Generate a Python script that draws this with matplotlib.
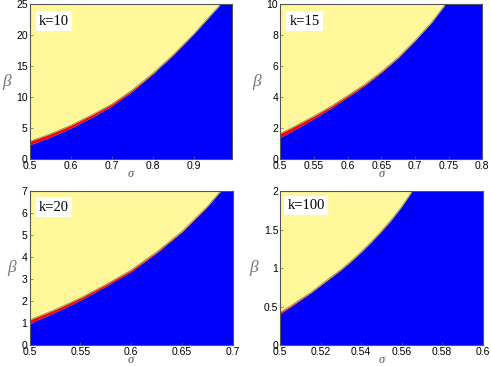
import numpy as np
import matplotlib
matplotlib.use('Agg')
import matplotlib.pyplot as plt

# boundary curves (blue top = lower, red top = upper)
sigma_k10 = [0.5, 0.55, 0.6, 0.65, 0.7, 0.75, 0.8, 0.85, 0.9, 0.95, 0.964]
lower_k10 = [2.3, 3.55, 5.0, 6.7, 8.6, 11.0, 13.8, 16.9, 20.3, 24.0, 25.0]
upper_k10 = [2.85, 4.05, 5.45, 7.1, 8.9, 11.2, 13.9, 16.95, 20.3, 24.0, 25.0]

sigma_k15 = [0.5, 0.525, 0.55, 0.575, 0.6, 0.625, 0.65, 0.675, 0.7, 0.725, 0.745]
lower_k15 = [1.4, 2.0, 2.62, 3.28, 4.0, 4.75, 5.6, 6.55, 7.65, 8.85, 10.0]
upper_k15 = [1.65, 2.2, 2.78, 3.4, 4.1, 4.82, 5.65, 6.58, 7.67, 8.86, 10.0]

sigma_k20 = [0.5, 0.525, 0.55, 0.575, 0.6, 0.625, 0.65, 0.675, 0.688]
lower_k20 = [1.0, 1.5, 2.05, 2.68, 3.35, 4.2, 5.15, 6.3, 7.0]
upper_k20 = [1.15, 1.62, 2.15, 2.76, 3.42, 4.24, 5.18, 6.31, 7.0]

sigma_k100 = [0.5, 0.505, 0.51, 0.515, 0.52, 0.525, 0.53, 0.535, 0.54, 0.545, 0.55, 0.555, 0.56, 0.5652]
lower_k100 = [0.41, 0.5, 0.59, 0.68, 0.78, 0.88, 0.98, 1.09, 1.21, 1.34, 1.48, 1.63, 1.8, 2.0]
upper_k100 = [0.43, 0.51, 0.6, 0.685, 0.785, 0.885, 0.985, 1.095, 1.215, 1.345, 1.485, 1.635, 1.8, 2.0]

labels = ['k=10', 'k=15', 'k=20', 'k=100']
xlims = [(0.5, 0.992), (0.5, 0.8), (0.5, 0.7), (0.5, 0.6)]
ylims = [(0, 25), (0, 10), (0, 7), (0, 2)]
xticks = [[0.5, 0.6, 0.7, 0.8, 0.9],
          [0.5, 0.55, 0.6, 0.65, 0.7, 0.75, 0.8],
          [0.5, 0.55, 0.6, 0.65, 0.7],
          [0.5, 0.52, 0.54, 0.56, 0.58, 0.6]]
yticks = [[0, 5, 10, 15, 20, 25],
          [0, 2, 4, 6, 8, 10],
          [0, 1, 2, 3, 4, 5, 6, 7],
          [0, 0.5, 1, 1.5, 2]]

curves = [(sigma_k10, lower_k10, upper_k10),
          (sigma_k15, lower_k15, upper_k15),
          (sigma_k20, lower_k20, upper_k20),
          (sigma_k100, lower_k100, upper_k100)]

yellow = '#fff799'
blue = '#0000ff'
red = '#ff0000'

W, H = 491, 366
fig = plt.figure(figsize=(W / 100, H / 100), dpi=100)

# axes boxes in pixels: left, top, right, bottom
boxes = [(29.7, 4.5, 232.0, 159.0),
         (280.3, 4.5, 482.3, 159.0),
         (29.5, 191.3, 232.7, 345.3),
         (280.3, 191.3, 482.5, 345.3)]
label_pos = [(0.045, 0.935), (0.045, 0.935), (0.045, 0.94), (0.035, 0.948)]

for i in range(4):
    l, t, r, b = boxes[i]
    ax = fig.add_axes([l / W, 1 - b / H, (r - l) / W, (b - t) / H])
    s, lo, up = curves[i]
    ax.set_facecolor(yellow)
    ax.fill_between(s, 0, lo, color=blue, lw=0)
    ax.fill_between(s, lo, up, color=red, lw=0)
    ax.axvspan(s[-1], xlims[i][1], color=blue, lw=0)
    ax.plot(s, up, color='#7a7a50', lw=0.5)
    ax.set_xlim(xlims[i])
    ax.set_ylim(ylims[i])
    ax.set_xticks(xticks[i])
    ax.set_xticklabels(['%g' % v for v in xticks[i]])
    ax.set_yticks(yticks[i])
    ax.set_yticklabels(['%g' % v for v in yticks[i]])
    ax.tick_params(direction='in', length=2, width=0.5, color='#666666',
                   labelsize=7.5, pad=1.5, top=False, right=False)
    for lab in ax.get_xticklabels() + ax.get_yticklabels():
        lab.set_family('Liberation Sans')
    for sp in ax.spines.values():
        sp.set_color('#555555')
        sp.set_linewidth(0.8)
    ax.set_xlabel('σ', family='Liberation Serif', style='italic', fontsize=9,
                  color='#555555', labelpad=-2.5)
    ax.set_ylabel('β', family='Liberation Serif', style='italic', fontsize=12.5,
                  color='#777777', rotation=0, labelpad=7, va='center')
    ax.text(label_pos[i][0], label_pos[i][1], labels[i], transform=ax.transAxes,
            ha='left', va='top', family='Liberation Serif', fontsize=10.5,
            bbox=dict(facecolor='white', edgecolor='none', pad=2.2))

fig.savefig('out.png', dpi=100)
